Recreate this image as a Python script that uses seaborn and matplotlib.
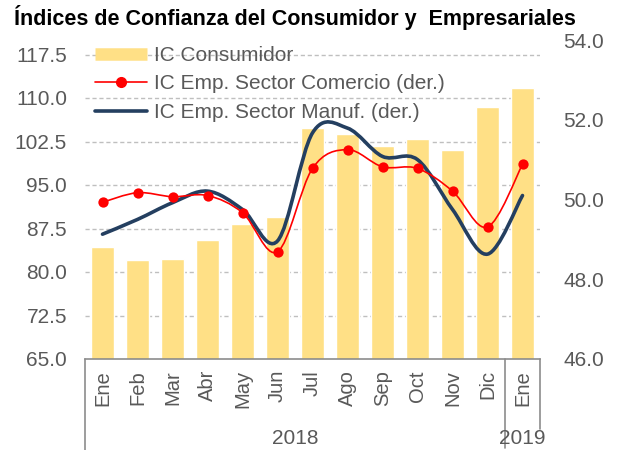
import numpy as np
import pandas as pd
import seaborn as sns
import matplotlib.pyplot as plt
from matplotlib.path import Path
from matplotlib.patches import PathPatch
from matplotlib.lines import Line2D

# data
months = ["Ene", "Feb", "Mar", "Abr", "May", "Jun", "Jul", "Ago", "Sep", "Oct", "Nov", "Dic", "Ene"]
years = ["2018"] * 12 + ["2019"]
consumidor = [84.3, 82.0, 82.3, 85.6, 88.2, 89.4, 104.9, 103.8, 101.7, 102.9, 101.0, 108.5, 111.7]
comercio = [49.93, 50.17, 50.07, 50.10, 49.67, 48.69, 50.78, 51.25, 50.82, 50.78, 50.21, 49.31, 50.88]
manuf = [49.13, 49.50, 49.92, 50.21, 49.75, 48.96, 51.67, 51.79, 51.08, 51.00, 49.75, 48.63, 50.10]
left_ticks = [65.0, 72.5, 80.0, 87.5, 95.0, 102.5, 110.0, 117.5]
right_ticks = [46.0, 48.0, 50.0, 52.0, 54.0]

BAR_C = "#FFE086"
RED = "#FF0000"
NAVY = "#243F60"
TXT = "#595959"
AX_C = "#8C8C8C"
FS = 15

df = pd.DataFrame({"key": [f"{m} {y}" for m, y in zip(months, years)],
                   "consumidor": consumidor, "comercio": comercio, "manuf": manuf})
df["pos"] = np.arange(len(df))

sns.set_style("white")
plt.rcParams["font.family"] = ["Liberation Sans", "DejaVu Sans"]

fig = plt.figure(figsize=(6.23, 4.5), dpi=100)
ax = fig.add_axes([85 / 623, 1 - 359 / 450, 455 / 623, 319 / 450])
ax2 = ax.twinx()

sns.barplot(data=df, x="key", y="consumidor", color=BAR_C, width=0.68,
            saturation=1, ax=ax, zorder=2)
ax.set_ylim(65, 120)
ax.set_xlim(-0.5, len(df) - 0.5)
ax.set_yticks(left_ticks)
ax.set_yticklabels([f"{t:.1f}" for t in left_ticks])
for t in left_ticks[1:]:
    ax.axhline(t, color="#BFBFBF", lw=1.0, ls=(0, (3, 2)), zorder=1)
ax.set_xticks(df["pos"])
ax.set_xticklabels(months, rotation=90, va="top")
ax.tick_params(axis="both", length=0, labelsize=FS, labelcolor=TXT)
ax.tick_params(axis="x", pad=8, labelsize=14.5)
ax.tick_params(axis="y", pad=13)
ax.set_xlabel("")
ax.set_ylabel("")
for s in ["top", "left", "right"]:
    ax.spines[s].set_visible(False)
ax.spines["bottom"].set_color(AX_C)
ax.spines["bottom"].set_linewidth(1.2)


def smooth_path(xs, ys):
    # Excel-style smoothed line: cubic bezier segments through the points
    p = np.column_stack([xs, ys])
    n = len(p)
    verts = [p[0]]
    codes = [Path.MOVETO]
    for i in range(n - 1):
        p0 = p[i - 1] if i > 0 else p[i]
        p3 = p[i + 2] if i + 2 < n else p[i + 1]
        c1 = p[i] + (p[i + 1] - p0) / 6
        c2 = p[i + 1] - (p3 - p[i]) / 6
        verts += [c1, c2, p[i + 1]]
        codes += [Path.CURVE4] * 3
    return Path(verts, codes)


ax2.set_ylim(46, 54)
ax2.add_patch(PathPatch(smooth_path(df["pos"], df["manuf"]), fill=False,
                        edgecolor=NAVY, lw=2.6, capstyle="round", zorder=3))
ax2.add_patch(PathPatch(smooth_path(df["pos"], df["comercio"]), fill=False,
                        edgecolor=RED, lw=1.2, zorder=4))
sns.scatterplot(data=df, x="pos", y="comercio", color=RED, s=55,
                edgecolor=RED, linewidth=0, ax=ax2, zorder=5)
ax2.set_yticks(right_ticks)
ax2.set_yticklabels([f"{t:.1f}" for t in right_ticks])
ax2.tick_params(axis="y", length=0, labelsize=FS, labelcolor=TXT, pad=17)
ax2.set_xlabel("")
ax2.set_ylabel("")
for s in ax2.spines.values():
    s.set_visible(False)

# multi-level category axis
trans = ax.get_xaxis_transform()
for xv, y_end in [(-0.5, -0.29), (11.5, -0.28), (12.5, -0.22)]:
    ax.plot([xv, xv], [0, y_end], color=AX_C, lw=1.2, transform=trans, clip_on=False)
ax.text(5.5, -0.25, "2018", transform=trans, ha="center", va="center", fontsize=FS, color=TXT)
ax.text(12.0, -0.25, "2019", transform=trans, ha="center", va="center", fontsize=FS, color=TXT)

handles = [Line2D([], [], color=BAR_C, lw=9, solid_capstyle="butt"),
           Line2D([], [], color=RED, lw=1.2, marker="o", markersize=7),
           Line2D([], [], color=NAVY, lw=2.6)]
labels = ["IC Consumidor", "IC Emp. Sector Comercio (der.)", "IC Emp. Sector Manuf. (der.)"]
leg = ax2.legend(handles, labels, loc="upper left", bbox_to_anchor=(-0.005, 1.02),
                 frameon=False, fontsize=FS, handlelength=2.5, handletextpad=0.3,
                 labelspacing=0.45, borderaxespad=0.2)
for t in leg.get_texts():
    t.set_color(TXT)

fig.text(14 / 623, 1 - 18 / 450, "Índices de Confianza del Consumidor y  Empresariales",
         fontsize=15.5, fontweight="bold", ha="left", va="center", color="black")

fig.savefig("out.png", dpi=100)
